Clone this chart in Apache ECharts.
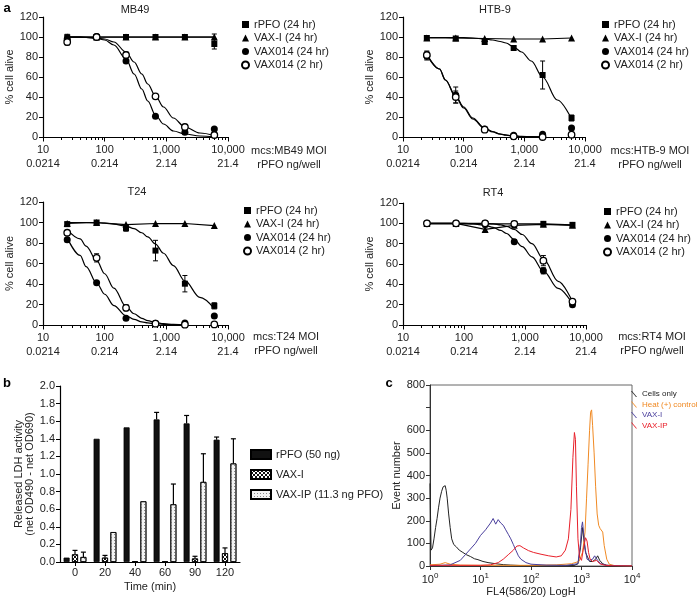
<!DOCTYPE html>
<html><head><meta charset="utf-8">
<script src="https://cdn.jsdelivr.net/npm/echarts/dist/echarts.min.js"></script>
<style>html,body{margin:0;padding:0;background:#fff}#c{width:700px;height:600px}</style>
</head><body><div id="c"></div>
<script>
const FONT = "'Liberation Sans', Arial, Helvetica, sans-serif";

// ================= Panel a =================
const doseMOI = [24.7, 74, 222, 667, 2000, 6000];
const fitDose = [24.7, 40, 50, 74, 100, 141, 222, 300, 400, 500, 667, 900, 1300, 2000, 3500, 6000];
const tickMOI = ['10', '100', '1,000', '10,000'];
const tickNg = ['0.0214', '0.214', '2.14', '21.4'];
const minorTickVals = [20, 30, 40, 50, 60, 70, 80, 90, 200, 300, 400, 500, 600, 700, 800, 900, 2000, 3000, 4000, 5000, 6000, 7000, 8000, 9000];
const seriesNames = ['rPFO (24 hr)', 'VAX-I (24 hr)', 'VAX014 (24 hr)', 'VAX014 (2 hr)'];
const cellLines = ['MB49', 'HTB-9', 'T24', 'RT4'];

// MB49
const mb49Rpfo = [99.7, 100, 100, 100, 100, 93];
const mb49VaxI = [100, 100, 100, 100, 100, 100];
const mb49V24 = [98, 100.5, 76, 20.7, 4.7, 8];
const mb49V2 = [95, 100, 82, 40.7, 10, 2];
const mb49RpfoErr = [3, 0, 0, 0, 0, 5];
const mb49VaxIErr = [0, 0, 0, 0, 0, 3];
const mb49V24Err = [0, 0, 0, 0, 0, 0];
const mb49V2Err = [3, 0, 3, 2, 0, 0];
const mb49FitRpfo = [99.8, 99.8, 99.8, 99.8, 99.8, 99.8, 99.8, 99.8, 99.8, 99.8, 99.8, 99.8, 99.8, 99.8, 99.8, 99.8];
const mb49Fit24 = [100, 99.8, 99.5, 98.5, 97, 92, 78, 63, 48, 36, 22, 13, 6, 3, 1, 0.3];
const mb49Fit2 = [100, 99.8, 99.6, 99, 98, 95, 85, 75, 63, 53, 41, 30, 19, 10, 4, 1.5];

// HTB-9
const htb9Rpfo = [99, 98.5, 95, 89, 62, 19];
const htb9VaxI = [99, 99, 98.5, 98, 98, 99];
const htb9V24 = [81, 42, 8, 1.7, 2.7, 9];
const htb9V2 = [82, 40, 7.3, 0.7, 0, 2.3];
const htb9RpfoErr = [0, 0, 2.5, 0, 14, 3];
const htb9VaxIErr = [0, 0, 0, 0, 0, 0];
const htb9V24Err = [4, 8, 0, 0, 0, 0];
const htb9V2Err = [4, 6, 0, 0, 0, 0];
const htb9FitRpfo = [99.5, 99.5, 99.5, 99.4, 99.3, 99, 98, 97, 95.5, 94, 90, 85, 76, 60, 37, 18];
const htb9Fit24 = [82, 68, 57, 41, 30, 19, 9, 5.5, 3, 2, 1, 0.6, 0.3, 0.1, null, null];
const htb9Fit2 = [83, 68, 57, 40, 29, 18, 8.5, 5, 2.8, 1.8, 1, 0.5, 0.2, 0.1, null, null];

// T24
const t24Rpfo = [98.4, 100, 94.5, 72.6, 40.3, 18.7];
const t24VaxI = [99, 100, 98, 99, 99, 97];
const t24V24 = [83.2, 41.3, 6.5, 1.6, 2, 8.7];
const t24V2 = [90, 65.5, 16.8, 1.3, 0.3, 0.6];
const t24RpfoErr = [2, 0, 3, 10, 8, 3];
const t24VaxIErr = [0, 0, 0, 0, 0, 0];
const t24V24Err = [2, 0, 0, 0, 0, 0];
const t24V2Err = [2, 4, 3, 0, 0, 0];
const t24FitRpfo = [100, 100, 100, 99.7, 99.3, 98.5, 96.5, 94, 90, 86, 79, 70, 58, 43, 27, 16];
const t24Fit24 = [85, 68, 57, 41, 30, 19, 9, 5.5, 3, 2, 1.2, 0.7, 0.3, 0.1, null, null];
const t24Fit2 = [93, 84, 77, 63, 50, 36, 18, 11, 6.5, 4.2, 2.3, 1.3, 0.6, 0.2, null, null];

// RT4
const rt4Rpfo = [99.5, 99.5, 99.5, 99.5, 99.5, 98.5];
const rt4VaxI = [100, 100, 94, 98, 99, 98];
const rt4V24 = [100, 100, 100, 82, 53.3, 20];
const rt4V2 = [100, 100, 100, 99.5, 63.3, 23];
const rt4RpfoErr = [0, 0, 0, 0, 0, 2];
const rt4VaxIErr = [0, 0, 2, 0, 0, 0];
const rt4V24Err = [0, 0, 0, 2, 3, 0];
const rt4V2Err = [0, 0, 0, 0, 5, 0];
const rt4Fit24 = [100, 100, 100, 100, 100, 99.5, 98, 96, 93, 90, 84, 77, 67, 53, 36, 21];
const rt4Fit2 = [100, 100, 100, 100, 100, 100, 100, 99.5, 98.5, 97, 94, 89, 80, 65, 43, 23];

// ================= Panel b =================
const timeCats = ['0', '20', '40', '60', '90', '120'];
const ldhNames = ['rPFO (50 ng)', 'VAX-I', 'VAX-IP (11.3 ng PFO)'];
const ldhRpfo = [0.05, 1.40, 1.53, 1.62, 1.575, 1.39];
const ldhVaxI = [0.087, 0.05, 0.01, 0.005, 0.04, 0.10];
const ldhVaxIP = [0.057, 0.34, 0.69, 0.656, 0.91, 1.12];
const ldhRpfoErr = [0, 0, 0, 0.08, 0.09, 0.03];
const ldhVaxIErr = [0.045, 0.025, 0, 0, 0.025, 0.06];
const ldhVaxIPErr = [0.055, 0, 0, 0.23, 0.32, 0.28];

// ================= Panel c =================
// (trailing space keeps the flow "VAX-I " legend entry separate from the bar "VAX-I")
const flowNames = ['Cells only', 'Heat (+) control', 'VAX-I ', 'VAX-IP '];
const flowColors = ['#222222', '#f08a24', '#4a3f9c', '#e8202a'];
const cellsX = [1, 1.05, 1.12, 1.2, 1.29, 1.38, 1.48, 1.58, 1.7, 1.82, 1.9, 2.0, 2.09, 2.19, 2.34, 2.51, 2.69, 2.95, 3.31, 3.8, 4.47, 5.25, 6.31, 7.59, 8.91, 11.2, 14.1, 20, 28.2, 39.8, 63.1, 158, 398, 708, 851, 955, 1047, 1122, 1202, 1318, 1445, 1660, 1905, 2089, 2291, 2630, 3162, 5012, 10000];
const cellsY = [365, 70, 80, 120, 170, 210, 260, 300, 330, 350, 345, 355, 335, 300, 230, 170, 120, 95, 85, 70, 60, 50, 42, 32, 28, 20, 15, 10, 6, 4, 2, 1, 1, 2, 10, 80, 170, 110, 60, 40, 20, 20, 30, 45, 25, 10, 3, 1, 0];
const heatX = [1, 1.58, 2.0, 2.51, 3.98, 10, 31.6, 100, 316, 631, 891, 1047, 1175, 1259, 1349, 1445, 1514, 1585, 1660, 1778, 1905, 2042, 2188, 2344, 2512, 2630, 2818, 3162, 3548, 4467, 10000];
const heatY = [5, 8, 15, 8, 4, 3, 3, 3, 5, 10, 20, 60, 150, 300, 450, 600, 680, 690, 620, 500, 350, 230, 180, 165, 170, 150, 90, 30, 8, 2, 0];
const vaxIX = [1, 1.58, 2.51, 3.98, 5.01, 6.31, 7.94, 10, 12.6, 15.8, 17.8, 20, 22.4, 25.1, 28.2, 31.6, 35.5, 39.8, 44.7, 50.1, 56.2, 63.1, 79.4, 100, 200, 500, 850, 955, 1000, 1047, 1096, 1175, 1288, 1445, 1660, 1820, 1950, 2089, 2400, 3162, 10000];
const vaxIY = [2, 3, 5, 25, 50, 75, 100, 135, 160, 190, 210, 185, 205, 190, 180, 160, 140, 120, 95, 70, 45, 30, 15, 8, 4, 3, 10, 100, 170, 195, 150, 80, 30, 25, 30, 45, 40, 25, 10, 3, 0];
const vaxIPX = [1, 10, 15.8, 22.4, 28.2, 35.5, 44.7, 52.5, 60.3, 70.8, 89.1, 112, 158, 224, 316, 398, 479, 550, 617, 676, 724, 759, 794, 851, 912, 1000, 1096, 1202, 1288, 1380, 1479, 1660, 1995, 2291, 2818, 3981, 10000];
const vaxIPY = [3, 3, 5, 15, 30, 50, 70, 88, 90, 80, 68, 60, 52, 45, 40, 45, 70, 120, 250, 480, 590, 560, 350, 120, 40, 25, 80, 125, 110, 60, 30, 20, 25, 10, 4, 1, 0];
const flowYTicks = [0, 100, 200, 300, 400, 500, 600, 800];

// ================= Build option =================
const panelPoints = [
  [mb49Rpfo, mb49VaxI, mb49V24, mb49V2],
  [htb9Rpfo, htb9VaxI, htb9V24, htb9V2],
  [t24Rpfo, t24VaxI, t24V24, t24V2],
  [rt4Rpfo, rt4VaxI, rt4V24, rt4V2]
];
const panelErr = [
  [mb49RpfoErr, mb49VaxIErr, mb49V24Err, mb49V2Err],
  [htb9RpfoErr, htb9VaxIErr, htb9V24Err, htb9V2Err],
  [t24RpfoErr, t24VaxIErr, t24V24Err, t24V2Err],
  [rt4RpfoErr, rt4VaxIErr, rt4V24Err, rt4V2Err]
];
// null => connect the measured points directly
const panelFits = [
  [mb49FitRpfo, null, mb49Fit24, mb49Fit2],
  [htb9FitRpfo, null, htb9Fit24, htb9Fit2],
  [t24FitRpfo, null, t24Fit24, t24Fit2],
  [null, null, rt4Fit24, rt4Fit2]
];
const panelGrid = [
  {left: 43, top: 17, width: 185, height: 120},
  {left: 403, top: 17, width: 182, height: 120},
  {left: 43, top: 202, width: 185, height: 123},
  {left: 403, top: 203, width: 183, height: 122}
];
const legendPos = [[241, 19], [601, 19], [243, 205], [603, 206]];
const titlePos = [[135, 10], [495, 10], [137, 192], [493, 193]];
const namePos = [[289, 151], [650, 151], [286, 337], [652, 337]];
const markers = [
  {symbol: 'rect', size: 6, fill: '#000'},
  {symbol: 'triangle', size: 7, fill: '#000'},
  {symbol: 'circle', size: 7, fill: '#000'},
  {symbol: 'circle', size: 6.5, fill: '#fff'}
];

const grids = [], xAxes = [], yAxes = [], series = [], legends = [], graphics = [];
const extraXAxes = [];
const txt = (text, x, y, opts = {}) => ({
  type: 'text', x, y, silent: true,
  style: Object.assign({text, fontSize: 11, fontFamily: FONT, fill: '#222', align: 'center', verticalAlign: 'middle'}, opts)
});

function errBars(gi, data) {
  return {
    type: 'custom', xAxisIndex: gi, yAxisIndex: gi, z: 3, silent: true, data,
    encode: {x: 0, y: 1},
    renderItem: (params, api) => {
      const x = api.value(0), y = api.value(1), e = api.value(2);
      const a = api.coord([x, y + e]), b = api.coord([x, y - e]);
      const w = 2.5, st = {stroke: '#000', lineWidth: 1};
      return {type: 'group', children: [
        {type: 'line', shape: {x1: a[0], y1: a[1], x2: b[0], y2: b[1]}, style: st},
        {type: 'line', shape: {x1: a[0] - w, y1: a[1], x2: a[0] + w, y2: a[1]}, style: st},
        {type: 'line', shape: {x1: b[0] - w, y1: b[1], x2: b[0] + w, y2: b[1]}, style: st}
      ]};
    }
  };
}

const axisLineStyle = {color: '#000', width: 1.2};

for (let p = 0; p < 4; p++) {
  grids.push(Object.assign({outerBoundsMode: 'none'}, panelGrid[p]));
  xAxes.push({
    type: 'log', logBase: 10, min: 10, max: 10000, gridIndex: p,
    axisLine: {show: true, lineStyle: axisLineStyle},
    axisTick: {show: true, length: 4.5, lineStyle: {color: '#000', width: 1}},
    splitLine: {show: false},
    axisLabel: {
      fontSize: 11, fontFamily: FONT, color: '#222', lineHeight: 14, margin: 6,
      showMinLabel: true, showMaxLabel: true,
      formatter: v => { const k = Math.round(Math.log10(v)) - 1; return tickMOI[k] + '\n' + tickNg[k]; }
    }
  });
  // secondary axis on the same grid: only the minor ticks
  extraXAxes.push({
    type: 'log', logBase: 10, min: 10, max: 10000, gridIndex: p, position: 'bottom',
    axisLine: {show: false},
    axisTick: {show: true, length: 3, customValues: minorTickVals, lineStyle: {color: '#000', width: 1}},
    axisLabel: {show: false}, splitLine: {show: false}
  });
  yAxes.push({
    type: 'value', min: 0, max: 120, interval: 20, gridIndex: p,
    axisLine: {show: true, lineStyle: axisLineStyle},
    axisTick: {show: true, length: 4, lineStyle: {color: '#000'}},
    splitLine: {show: false},
    axisLabel: {fontSize: 11, fontFamily: FONT, color: '#222', margin: 5},
    name: '% cell alive', nameLocation: 'middle', nameGap: 24,
    nameTextStyle: {fontSize: 11, fontFamily: FONT, color: '#222'}
  });
  for (let s = 0; s < 4; s++) {
    const pts = panelPoints[p][s];
    const fit = panelFits[p][s];
    const lineData = fit ? fitDose.map((x, i) => [x, fit[i]]).filter(d => d[1] !== null)
                         : doseMOI.map((x, i) => [x, pts[i]]);
    series.push({
      type: 'line', name: 'fit-' + s, xAxisIndex: p, yAxisIndex: p, z: 2, silent: true,
      showSymbol: false, smooth: fit ? 0.35 : false, smoothMonotone: 'x',
      lineStyle: {color: '#000', width: 1.2}, data: lineData
    });
    const m = markers[s];
    series.push({
      type: 'scatter', name: seriesNames[s], xAxisIndex: p, yAxisIndex: p, z: 4 + s,
      symbol: m.symbol, symbolSize: m.size,
      itemStyle: {color: m.fill, borderColor: '#000', borderWidth: m.fill === '#fff' ? 1.3 : 0, opacity: 1},
      data: doseMOI.map((x, i) => [x, pts[i]])
    });
  }
  const eData = [];
  for (let s = 0; s < 4; s++) {
    panelPoints[p][s].forEach((v, i) => { const e = panelErr[p][s][i]; if (e > 0) eData.push([doseMOI[i], v, e]); });
  }
  series.push(errBars(p, eData));
  legends.push({
    left: legendPos[p][0], top: legendPos[p][1], orient: 'vertical', padding: 0,
    itemWidth: 7, itemHeight: 7, itemGap: 2.5, selectedMode: false,
    textStyle: {fontSize: 11, fontFamily: FONT, color: '#222'},
    data: seriesNames
  });
  graphics.push(txt(cellLines[p], titlePos[p][0], titlePos[p][1]));
  graphics.push(txt('mcs:' + cellLines[p] + ' MOI', namePos[p][0], namePos[p][1]));
  graphics.push(txt('rPFO ng/well', namePos[p][0], namePos[p][1] + 14));
}

// ---- Panel b ----
grids.push({left: 60, top: 386, width: 180, height: 176, outerBoundsMode: 'none'});
xAxes.push({
  type: 'category', gridIndex: 4, data: timeCats,
  axisLine: {show: true, lineStyle: axisLineStyle},
  axisTick: {show: true, alignWithLabel: true, length: 4, lineStyle: {color: '#000'}},
  axisLabel: {fontSize: 11, fontFamily: FONT, color: '#222', margin: 5},
  name: 'Time (min)', nameLocation: 'middle', nameGap: 19,
  nameTextStyle: {fontSize: 11, fontFamily: FONT, color: '#222'}
});
yAxes.push({
  type: 'value', gridIndex: 4, min: 0, max: 2, interval: 0.2,
  axisLine: {show: true, lineStyle: axisLineStyle},
  axisTick: {show: true, length: 4, lineStyle: {color: '#000'}},
  splitLine: {show: false},
  axisLabel: {fontSize: 11, fontFamily: FONT, color: '#222', margin: 5, formatter: v => v.toFixed(1)},
  name: 'Released LDH activity\n(net OD490 - net OD690)', nameLocation: 'middle', nameGap: 25,
  nameTextStyle: {fontSize: 11, fontFamily: FONT, color: '#222', lineHeight: 11}
});
const ldhVals = [ldhRpfo, ldhVaxI, ldhVaxIP];
const ldhErrs = [ldhRpfoErr, ldhVaxIErr, ldhVaxIPErr];
const ldhStyles = [
  {color: '#111', borderColor: '#000', borderWidth: 0.8},
  {color: '#fff', borderColor: '#000', borderWidth: 0.8,
   decal: {symbol: 'rect', symbolSize: 1, color: '#111', dashArrayX: [[2, 2], [0, 2, 2, 0]], dashArrayY: [2, 0], rotation: 0}},
  {color: '#f2f2f2', borderColor: '#000', borderWidth: 0.8,
   decal: {symbol: 'rect', symbolSize: 1, color: '#8a8a8a', dashArrayX: [1, 2], dashArrayY: [1, 2], rotation: 0}}
];
for (let k = 0; k < 3; k++) {
  series.push({
    type: 'bar', name: ldhNames[k], xAxisIndex: 4, yAxisIndex: 4,
    barWidth: 6, barGap: '40%', itemStyle: ldhStyles[k], data: ldhVals[k]
  });
}
const ldhErrData = [];
for (let k = 0; k < 3; k++) ldhVals[k].forEach((v, i) => { if (ldhErrs[k][i] > 0) ldhErrData.push([i, v, ldhErrs[k][i], k]); });
series.push({
  type: 'custom', xAxisIndex: 4, yAxisIndex: 4, z: 5, silent: true, data: ldhErrData,
  encode: {x: 0, y: 1},
  renderItem: (params, api) => {
    const c = api.value(0), v = api.value(1), e = api.value(2), k = api.value(3);
    const b = api.coord([c, v]), t = api.coord([c, v + e]);
    const x = b[0] + (k - 1) * 8.4, st = {stroke: '#000', lineWidth: 1.2};
    return {type: 'group', children: [
      {type: 'line', shape: {x1: x, y1: b[1], x2: x, y2: t[1]}, style: st},
      {type: 'line', shape: {x1: x - 2.5, y1: t[1], x2: x + 2.5, y2: t[1]}, style: st}
    ]};
  }
});
legends.push({
  left: 250, top: 449, orient: 'vertical', icon: 'rect', selectedMode: false, padding: 0,
  itemWidth: 20, itemHeight: 9, itemGap: 9,
  textStyle: {fontSize: 11, fontFamily: FONT, color: '#222'},
  data: ldhNames
});

// ---- Panel c ----
grids.push({left: 430, top: 385, width: 202, height: 181, show: true, borderColor: '#666', borderWidth: 1, outerBoundsMode: 'none'});
xAxes.push({
  type: 'log', logBase: 10, min: 1, max: 10000, gridIndex: 5,
  axisLine: {show: true, lineStyle: {color: '#333', width: 1}},
  axisTick: {show: true, length: 4, lineStyle: {color: '#333'}},
  splitLine: {show: false},
  axisLabel: {
    fontSize: 11, fontFamily: FONT, color: '#222', margin: 6,
    formatter: v => '10{s|' + Math.round(Math.log10(v)) + '}',
    rich: {s: {fontSize: 8, fontFamily: FONT, color: '#222', padding: [0, 0, 7, 0]}}
  },
  name: 'FL4(586/20) LogH', nameLocation: 'middle', nameGap: 20,
  nameTextStyle: {fontSize: 11, fontFamily: FONT, color: '#222'}
});
yAxes.push({
  type: 'value', gridIndex: 5, min: 0, max: 800, interval: 100,
  axisLine: {show: true, lineStyle: {color: '#333', width: 1}},
  axisTick: {show: true, length: 4, lineStyle: {color: '#333'}},
  splitLine: {show: false},
  axisLabel: {fontSize: 11, fontFamily: FONT, color: '#222', margin: 5,
    formatter: v => flowYTicks.indexOf(v) >= 0 ? String(v) : ''},
  name: 'Event number', nameLocation: 'middle', nameGap: 27,
  nameTextStyle: {fontSize: 11, fontFamily: FONT, color: '#222'}
});
const flowX = [cellsX, heatX, vaxIX, vaxIPX];
const flowY = [cellsY, heatY, vaxIY, vaxIPY];
const flowOrder = [1, 0, 2, 3];
flowOrder.forEach(k => {
  series.push({
    type: 'line', name: flowNames[k], xAxisIndex: 5, yAxisIndex: 5, showSymbol: false,
    z: 2 + k, color: flowColors[k], lineStyle: {color: flowColors[k], width: 1},
    data: flowX[k].map((x, i) => [x, flowY[k][i]])
  });
});
legends.push({
  left: 631, top: 390, orient: 'vertical', selectedMode: false, padding: 0,
  icon: 'path://M0,0 L1.6,0 L10,10 L8.4,10 Z',
  itemWidth: 6, itemHeight: 9, itemGap: 2.5,
  textStyle: {fontSize: 8, fontFamily: FONT},
  formatter: n => n.trim(),
  data: flowNames.map((n, k) => ({name: n, textStyle: {color: flowColors[k]}}))
});

// Panel letters
graphics.push(txt('a', 7, 8, {fontSize: 13, fontWeight: 'bold', fill: '#000'}));
graphics.push(txt('b', 7, 383, {fontSize: 13, fontWeight: 'bold', fill: '#000'}));
graphics.push(txt('c', 389, 383, {fontSize: 13, fontWeight: 'bold', fill: '#000'}));

const chart = echarts.init(document.getElementById('c'), null, {renderer: 'canvas'});
chart.setOption({
  animation: false,
  backgroundColor: '#fff',
  textStyle: {fontFamily: FONT},
  grid: grids, xAxis: xAxes.concat(extraXAxes), yAxis: yAxes,
  legend: legends, series: series, graphic: graphics
});
</script></body></html>
